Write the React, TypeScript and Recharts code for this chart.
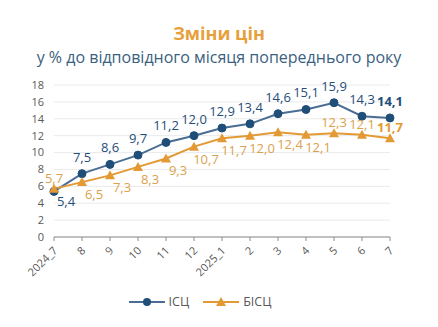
import { LineChart, Line, XAxis, YAxis, CartesianGrid, Legend } from "recharts";

const months = ["2024_7", "8", "9", "10", "11", "12", "2025_1", "2", "3", "4", "5", "6", "7"];
const isc = [5.4, 7.5, 8.6, 9.7, 11.2, 12.0, 12.9, 13.4, 14.6, 15.1, 15.9, 14.3, 14.1];
const bisc = [5.7, 6.5, 7.3, 8.3, 9.3, 10.7, 11.7, 12.0, 12.4, 12.1, 12.3, 12.1, 11.7];
const yTicks = [0, 2, 4, 6, 8, 10, 12, 14, 16, 18];

// which points get their label placed differently
const iscBelow = [0];
const biscAbove = [0, 10, 11, 12];

const BLUE = "#1F4E79";
const BLUE_LINE = "#4A6D94";
const ORANGE = "#E39A34";
const ORANGE_TEXT = "#D9A24E";
const FONT = "'Open Sans', sans-serif";

const data = months.map((m, i) => ({ month: m, isc: isc[i], bisc: bisc[i] }));
const fmt = (v: number) => v.toFixed(1).replace(".", ",");
const last = months.length - 1;

function IscLabel(props: any) {
  const { x, y, value, index } = props;
  const below = iscBelow.includes(index);
  return (
    <text
      x={below ? x + 12 : x}
      y={below ? y + 15 : y - 12}
      textAnchor="middle"
      fill={BLUE}
      fontSize={13}
      fontWeight={index === last ? 700 : 400}
      fontFamily={FONT}
    >
      {fmt(value)}
    </text>
  );
}

function BiscLabel(props: any) {
  const { x, y, value, index } = props;
  const above = biscAbove.includes(index);
  return (
    <text
      x={above ? x : x + 12}
      y={above ? y - 6 : y + 17}
      textAnchor="middle"
      fill={index === last ? ORANGE : ORANGE_TEXT}
      fontSize={13}
      fontWeight={index === last ? 700 : 400}
      fontFamily={FONT}
    >
      {fmt(value)}
    </text>
  );
}

function MonthTick(props: any) {
  const { x, y, payload } = props;
  return (
    <g transform={`translate(${x},${y + 4})`}>
      <text
        textAnchor="end"
        transform="rotate(-45)"
        fill="#595959"
        fontSize={11}
        fontFamily={FONT}
        dy={6}
      >
        {payload.value}
      </text>
    </g>
  );
}

function LegendBox() {
  const items = [
    { name: "ІСЦ", color: BLUE_LINE, marker: BLUE, tri: false },
    { name: "БІСЦ", color: ORANGE, marker: ORANGE, tri: true },
  ];
  return (
    <div style={{ display: "flex", justifyContent: "center", gap: 14, paddingTop: 6, fontFamily: FONT, fontSize: 12.5, color: "#595959" }}>
      {items.map((it) => (
        <div key={it.name} style={{ display: "flex", alignItems: "center", gap: 4 }}>
          <svg width={36} height={10}>
            <line x1={0} y1={5} x2={36} y2={5} stroke={it.color} strokeWidth={2} />
            {it.tri ? (
              <polygon points="18,0 23,9 13,9" fill={it.marker} />
            ) : (
              <circle cx={18} cy={5} r={4} fill={it.marker} />
            )}
          </svg>
          <span>{it.name}</span>
        </div>
      ))}
    </div>
  );
}

export default function App() {
  return (
    <div style={{ position: "absolute", left: 0, top: 0, width: 438, height: 327, background: "#fff" }}>
      <div style={{ position: "absolute", top: 21, width: 438, textAlign: "center", fontFamily: FONT, fontWeight: 700, fontSize: 18, lineHeight: "24px", color: "#E8A03A" }}>
        Зміни цін
      </div>
      <div style={{ position: "absolute", top: 46, width: 438, textAlign: "center", fontFamily: FONT, fontSize: 16, lineHeight: "22px", color: "#3B5F80" }}>
        у % до відповідного місяця попереднього року
      </div>
      <LineChart width={438} height={327} data={data} margin={{ top: 85, right: 48, left: 10, bottom: 10 }}>
        <CartesianGrid vertical={false} stroke="#EAEAEA" />
        <XAxis
          dataKey="month"
          interval={0}
          height={50}
          tick={<MonthTick />}
          axisLine={{ stroke: "#8C8C8C" }}
          tickLine={{ stroke: "#8C8C8C" }}
          tickSize={4}
        />
        <YAxis
          domain={[0, 18]}
          ticks={yTicks}
          interval={0}
          width={44}
          axisLine={false}
          tickLine={false}
          tickMargin={4}
          tick={{ fill: "#595959", fontSize: 11, fontFamily: FONT }}
        />
        <Legend verticalAlign="bottom" height={30} content={<LegendBox />} />
        <Line
          dataKey="isc"
          name="ІСЦ"
          stroke={BLUE_LINE}
          strokeWidth={2}
          dot={{ r: 4, fill: BLUE, stroke: BLUE, strokeWidth: 1 }}
          label={<IscLabel />}
          isAnimationActive={false}
        />
        <Line
          dataKey="bisc"
          name="БІСЦ"
          stroke={ORANGE}
          strokeWidth={2}
          dot={(p: any) => (
            <polygon
              key={p.index}
              points={`${p.cx},${p.cy - 5} ${p.cx + 5},${p.cy + 4} ${p.cx - 5},${p.cy + 4}`}
              fill={ORANGE}
            />
          )}
          label={<BiscLabel />}
          isAnimationActive={false}
        />
      </LineChart>
    </div>
  );
}
